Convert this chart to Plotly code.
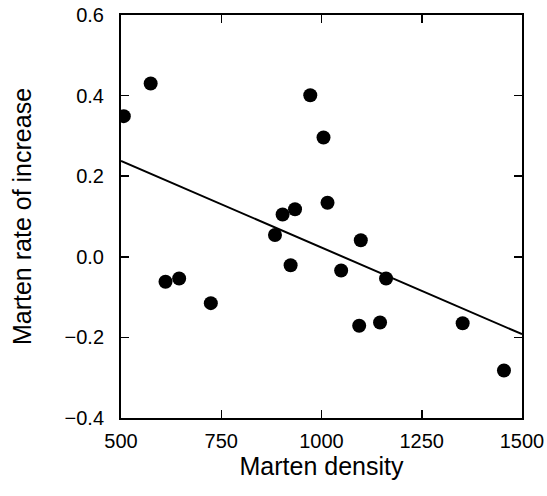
import plotly.graph_objects as go

density = [507, 574, 611, 645, 724, 884, 903, 934, 923, 972, 1005, 1015, 1098, 1049, 1161, 1094, 1146, 1352, 1455]
rate = [0.349, 0.430, -0.062, -0.054, -0.115, 0.054, 0.105, 0.118, -0.021, 0.401, 0.296, 0.134, 0.041, -0.034, -0.054, -0.171, -0.163, -0.165, -0.282]

fit_x = [500, 1500]
fit_y = [0.238, -0.192]

x_ticks = [500, 750, 1000, 1250, 1500]
y_ticks = [-0.4, -0.2, 0.0, 0.2, 0.4, 0.6]

FONT = "Liberation Sans, Arial"

fig = go.Figure()
fig.add_trace(go.Scatter(x=fit_x, y=fit_y, mode="lines",
                         line=dict(color="black", width=2), showlegend=False))
fig.add_trace(go.Scatter(x=density, y=rate, mode="markers",
                         marker=dict(color="black", size=14), showlegend=False))

axis_common = dict(showgrid=False, zeroline=False, showline=True, linecolor="black",
                   linewidth=2, mirror="ticks", ticks="inside", ticklen=8, tickwidth=1.5,
                   tickcolor="black", automargin=False,
                   tickfont=dict(family=FONT, size=20, color="black"))

fig.update_xaxes(range=[500, 1500], tickvals=x_ticks, ticktext=[str(v) for v in x_ticks],
                 ticklabelstandoff=4,
                 title=dict(text="Marten density", font=dict(family=FONT, size=25, color="black"), standoff=6),
                 **axis_common)
fig.update_yaxes(range=[-0.4, 0.6], tickvals=y_ticks, tickformat=".1f",
                 ticklabelstandoff=11,
                 title=dict(text="Marten rate of increase", font=dict(family=FONT, size=25, color="black"), standoff=26),
                 **axis_common)

fig.update_layout(width=547, height=496, margin=dict(l=121, r=25, t=15, b=78),
                  plot_bgcolor="white", paper_bgcolor="white", hovermode=False)

fig.write_html("out.html", config={"displayModeBar": False, "staticPlot": True},
               post_script="document.body.style.margin='0';document.body.style.overflow='hidden';")
